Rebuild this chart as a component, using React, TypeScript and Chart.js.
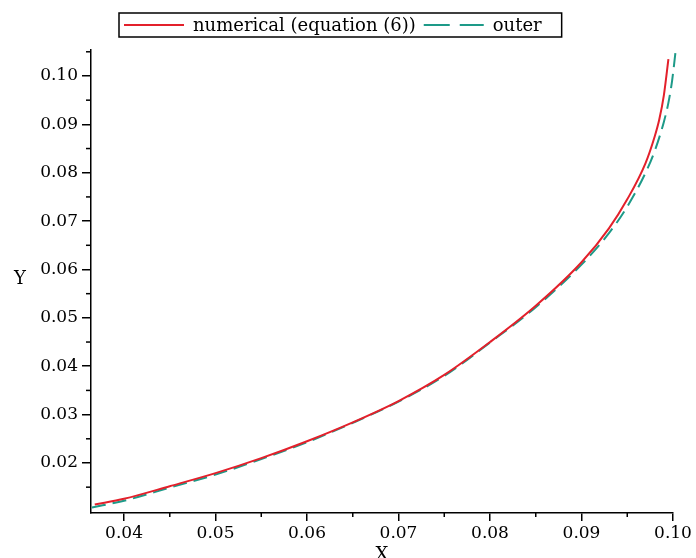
import React, { useEffect, useRef } from "react";
import { Chart, registerables } from "chart.js";

Chart.register(...registerables);

// numerical solution (equation (6))
const numX = [0.0368, 0.040, 0.045, 0.050, 0.055, 0.060, 0.065, 0.070, 0.075, 0.080, 0.085, 0.090, 0.093, 0.095, 0.097, 0.098, 0.0985, 0.099, 0.0995];
const numY = [0.0114, 0.0126, 0.0152, 0.0179, 0.0210, 0.0245, 0.0284, 0.0328, 0.0382, 0.0450, 0.0525, 0.0615, 0.0685, 0.0745, 0.0820, 0.0875, 0.0910, 0.0960, 0.1035];
// outer solution
const outX = [0.0365, 0.040, 0.045, 0.050, 0.055, 0.060, 0.065, 0.070, 0.075, 0.080, 0.085, 0.090, 0.093, 0.095, 0.097, 0.098, 0.099, 0.0995, 0.0999, 0.1003];
const outY = [0.0108, 0.0122, 0.0149, 0.0176, 0.0208, 0.0243, 0.0283, 0.0327, 0.0380, 0.0449, 0.0522, 0.0610, 0.0675, 0.0730, 0.0800, 0.0845, 0.0905, 0.0945, 0.0990, 0.1054];

const xMajor = [0.04, 0.05, 0.06, 0.07, 0.08, 0.09, 0.10];
const xMinor = [0.045, 0.055, 0.065, 0.075, 0.085, 0.095];
const yMajor = [0.02, 0.03, 0.04, 0.05, 0.06, 0.07, 0.08, 0.09, 0.10];
const yMinor = [0.015, 0.025, 0.035, 0.045, 0.055, 0.065, 0.075, 0.085, 0.095, 0.105];

const labels = ["numerical (equation (6))", "outer"];
const RED = "#e3202b";
const TEAL = "#1d9a88";
const FONT = "'DejaVu Serif', serif";

const extrasPlugin = {
  id: "extras",
  afterDraw(chart: any) {
    const ctx = chart.ctx;
    const xs = chart.scales.x;
    const ys = chart.scales.y;
    const area = chart.chartArea;
    ctx.save();
    ctx.strokeStyle = "#000";
    ctx.lineWidth = 1.5;
    // minor ticks
    xMinor.forEach((v) => {
      const px = xs.getPixelForValue(v);
      ctx.beginPath();
      ctx.moveTo(px, area.bottom);
      ctx.lineTo(px, area.bottom + 4);
      ctx.stroke();
    });
    yMinor.forEach((v) => {
      const py = ys.getPixelForValue(v);
      ctx.beginPath();
      ctx.moveTo(area.left, py);
      ctx.lineTo(area.left - 5, py);
      ctx.stroke();
    });
    // axis titles
    ctx.fillStyle = "#000";
    ctx.font = `18px ${FONT}`;
    ctx.textAlign = "center";
    ctx.textBaseline = "alphabetic";
    ctx.fillText("X", (area.left + area.right) / 2, 560);
    ctx.textBaseline = "middle";
    ctx.fillText("Y", 20, (area.top + area.bottom) / 2 - 2);

    // legend
    const ds = chart.data.datasets;
    ctx.font = `18px ${FONT}`;
    const boxL = 119, boxT = 13, boxB = 37;
    const midY = (boxT + boxB) / 2;
    let x = boxL + 5;
    ctx.textAlign = "left";
    ctx.textBaseline = "middle";
    ds.forEach((d: any, i: number) => {
      ctx.strokeStyle = d.borderColor;
      ctx.lineWidth = 2;
      ctx.setLineDash(i === 1 ? [26, 10] : []);
      ctx.beginPath();
      ctx.moveTo(x, midY);
      ctx.lineTo(x + 60, midY);
      ctx.stroke();
      ctx.setLineDash([]);
      x += 69;
      ctx.fillStyle = "#000";
      ctx.fillText(d.label, x, midY + 1);
      x += ctx.measureText(d.label).width + 8;
    });
    const boxR = x + 12;
    ctx.strokeStyle = "#000";
    ctx.lineWidth = 1.5;
    ctx.strokeRect(boxL, boxT, boxR - boxL, boxB - boxT);
    ctx.restore();
  },
};

export default function App() {
  const ref = useRef<HTMLCanvasElement>(null);
  useEffect(() => {
    if (!ref.current) return;
    const chart = new Chart(ref.current, {
      type: "line",
      data: {
        datasets: [
          {
            label: labels[0],
            data: numX.map((x, i) => ({ x, y: numY[i] })),
            borderColor: RED,
            borderWidth: 2,
            pointRadius: 0,
            tension: 0.4,
            cubicInterpolationMode: "monotone",
            clip: false as any,
          },
          {
            label: labels[1],
            data: outX.map((x, i) => ({ x, y: outY[i] })),
            borderColor: TEAL,
            borderWidth: 2,
            borderDash: [14, 7],
            pointRadius: 0,
            tension: 0.4,
            cubicInterpolationMode: "monotone",
            clip: false as any,
          },
        ],
      },
      options: {
        animation: false,
        responsive: false,
        maintainAspectRatio: false,
        layout: { padding: { top: 50, right: 23, left: 0, bottom: 0 } },
        plugins: { legend: { display: false }, tooltip: { enabled: false } },
        scales: {
          x: {
            type: "linear",
            min: 0.03639,
            max: 0.10,
            afterBuildTicks: (s: any) => {
              s.ticks = xMajor.map((v) => ({ value: v }));
            },
            afterFit: (s: any) => {
              s.height = 45;
            },
            ticks: {
              color: "#000",
              font: { family: FONT, size: 17 },
              padding: 2,
              maxRotation: 0,
              autoSkip: false,
              callback: (v: any) => Number(v).toFixed(2),
            },
            grid: { display: true, drawOnChartArea: false, drawTicks: true, tickLength: 8, color: "#000", lineWidth: 1.5 },
            border: { display: true, color: "#000", width: 1.5 },
          },
          y: {
            type: "linear",
            min: 0.00966,
            max: 0.10537,
            afterBuildTicks: (s: any) => {
              s.ticks = yMajor.map((v) => ({ value: v }));
            },
            afterFit: (s: any) => {
              s.width = 91;
            },
            ticks: {
              color: "#000",
              font: { family: FONT, size: 17 },
              padding: 4,
              autoSkip: false,
              callback: (v: any) => Number(v).toFixed(2),
            },
            grid: { display: true, drawOnChartArea: false, drawTicks: true, tickLength: 9, color: "#000", lineWidth: 1.5 },
            border: { display: true, color: "#000", width: 1.5 },
          },
        },
      },
      plugins: [extrasPlugin],
    });
    return () => chart.destroy();
  }, []);
  return (
    <div style={{ position: "absolute", left: 0, top: 0, width: 696, height: 558, background: "#fff" }}>
      <canvas ref={ref} width={696} height={558} style={{ width: 696, height: 558 }} />
    </div>
  );
}
